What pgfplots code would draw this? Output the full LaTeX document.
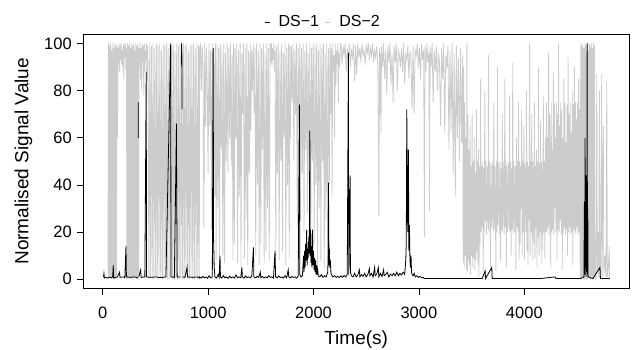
\documentclass[border=0pt]{standalone}
\usepackage{fontspec}
\setmainfont{Liberation Sans}
\usepackage{pgfplots}
\pgfplotsset{compat=1.18}
\definecolor{dsgray}{RGB}{204,204,204}
\begin{document}
\begin{tikzpicture}[x=1pt,y=1pt]
\begin{axis}[
  at={(83.3pt,61.3pt)}, anchor=south west,
  scale only axis, width=545.7pt, height=254.7pt,
  xmin=-184, xmax=4993, ymin=-4, ymax=104,
  xtick={0,1000,2000,3000,4000}, ytick={0,20,40,60,80,100},
  tick align=outside, xtick pos=bottom, ytick pos=left,
  major tick length=6pt,
  tick style={black, line width=0.7pt},
  axis line style={line width=0.7pt},
  /pgf/number format/assume math mode=true,
  /pgf/number format/1000 sep={},
  ticklabel style={font=\fontsize{16.5}{18}\selectfont},
  xticklabel style={yshift=-8.5pt},
  yticklabel style={xshift=-2pt},
  xlabel={Time(s)}, ylabel={Normalised Signal Value},
  label style={font=\fontsize{19}{21}\selectfont},
  xlabel style={at={(axis description cs:0.5,-0.2)}, anchor=center},
  ylabel style={at={(axis description cs:-0.1096,0.5)}, anchor=center},
  unbounded coords=jump,
  legend style={at={(axis description cs:0.4393,1.047)}, anchor=center, draw=none, fill=none,
    font=\fontsize{16}{18}\selectfont, legend columns=-1,
    /tikz/every even column/.append style={column sep=4pt}},
  legend image code/.code={\draw[#1] (0pt,0pt) -- (5pt,0pt); \path[draw=none] (0pt,0pt) -- (12pt,0pt);},
]
\addplot[dsgray, line width=0.8pt, forget plot] coordinates {
(50,2) (55,100) (60,0) (65,99) (70,1) (75,100) (80,0) (85,97) (90,0) (95,100) (100,1) (105,98) (110,0) (115,100) (120,0) (125,99) (130,1) (135,100)
(140,60) (145,98) (150,92) (155,100) (160,88) (165,99) (170,93) (175,100) (180,91) (185,97) (190,90) (195,100) (200,85) (205,99) (210,94) (215,100) (220,89) (225,98)
(230,0) (235,100) (240,0) (245,99) (250,1) (255,100) (260,0) (265,98) (270,0) (275,100) (280,1) (285,99) (290,0) (295,100) (300,0) (305,97) (310,1) (315,100) (320,0) (325,99) (330,0) (335,100) (340,0) (345,98)
(350,90) (355,100) (360,85) (365,98) (370,80) (375,100) (380,92) (385,99) (390,78) (395,100) (400,88) (405,97) (410,93) (415,100) (420,84) (425,99) (430,90)
(438,0) (446,100) (454,1) (462,99) (470,0) (478,100) (486,0) (494,98) (502,1) (510,100) (518,0) (526,99) (534,0) (542,100) (550,1) (558,97) (566,0) (574,100) (582,0) (590,99) (598,1) (606,100) (614,0) (622,98) (630,0) (638,100) (646,1) (654,99) (662,0) (670,100) (678,0) (686,97) (694,1) (702,100) (710,0) (718,99) (726,0) (734,100) (742,1) (750,98) (758,0) (766,100) (774,0) (782,99) (790,1) (798,100) (806,0) (814,97) (822,0) (830,100) (838,1) (846,99) (854,0) (862,100) (870,0) (878,98) (886,1) (894,100) (902,0) (910,99) (916,0)
(920,97) (928,100) (936,80) (944,99) (952,90) (960,22) (968,100) (976,65) (984,98) (992,82) (1000,45) (1008,100) (1016,65) (1024,97) (1032,21) (1040,100) (1048,55) (1056,98) (1064,35) (1070,100)
(1076,8) (1084,100) (1092,30) (1100,98) (1108,6) (1116,100) (1124,55) (1132,97) (1140,10) (1148,100) (1156,7) (1164,96) (1172,50) (1180,100) (1188,45) (1196,98) (1204,60) (1212,100) (1220,48) (1228,95) (1236,8) (1242,100)
(1248,15) (1256,98) (1264,60) (1272,100) (1280,7) (1288,97) (1296,35) (1304,100) (1312,5) (1320,96) (1328,70) (1336,100) (1344,9) (1352,98) (1360,25) (1368,100) (1376,6) (1384,97) (1392,45) (1400,100) (1406,63) (1413,97) (1420,80) (1428,100) (1436,70) (1444,98)
(1452,10) (1460,100) (1468,40) (1476,97) (1484,6) (1492,100) (1500,15) (1508,98) (1516,55) (1524,100) (1532,7) (1540,96) (1548,12) (1556,100) (1564,30) (1572,98) (1580,8) (1588,100)
(1594,92) (1600,100) (1606,90) (1612,98) (1618,93) (1624,100) (1630,88) (1636,97)
(1642,10) (1650,99) (1658,45) (1666,100) (1674,8) (1682,97) (1690,50) (1698,100) (1706,12) (1714,96) (1722,60) (1730,100) (1738,6) (1746,98) (1754,40) (1762,100) (1770,9) (1776,99)
(1782,60) (1790,99) (1798,75) (1806,100) (1814,50) (1822,97) (1830,70) (1838,100) (1846,22) (1854,98) (1862,65) (1870,100)
(1878,25) (1886,98) (1894,45) (1902,100) (1910,20) (1918,97) (1926,55) (1934,100) (1942,28) (1950,96) (1958,40) (1966,100) (1974,21) (1982,98) (1990,50) (1998,100)
(2006,15) (2014,99) (2022,40) (2030,100) (2038,6) (2046,97) (2054,30) (2062,100) (2070,8) (2078,98) (2086,50) (2094,100) (2102,5) (2110,96) (2118,25) (2126,100) (2134,10) (2142,98) (2150,40) (2158,100)
(2164,70) (2170,98) (2176,35) (2182,100) (2188,88) (2194,95) (2200,60) (2206,100) (2212,82) (2218,97) (2224,91) (2230,100) (2236,75) (2242,96) (2248,90) (2254,100)
(2260,100) (2270,91) (2280,99) (2290,95) (2300,100) (2310,88) (2320,98) (2330,93) (2340,100) (2350,90) (2360,97) (2370,94) (2380,100) (2390,84) (2400,99) (2410,86) (2420,100) (2430,94) (2440,98) (2450,92) (2460,100) (2470,95) (2480,97) (2490,91) (2500,99) (2510,96) (2520,100) (2530,93) (2540,98) (2550,95) (2560,100) (2570,92) (2580,97) (2590,94) (2600,99) (2610,90)
(2620,27) (2625,98) (2630,70) (2635,96) (2640,62) (2645,99) (2655,90) (2665,100) (2675,85) (2685,97) (2695,78) (2705,99) (2715,92) (2725,100) (2735,82) (2745,96) (2755,75)
(2765,99) (2775,92) (2785,100) (2795,80) (2805,97) (2815,95) (2825,90) (2835,98) (2845,88) (2855,100) (2865,83) (2875,96) (2885,93) (2895,99) (2905,85) (2915,97) (2925,94)
(2935,72) (2945,99) (2955,70) (2965,97) (2975,95) (2985,100) (2995,90) (3005,98) (3015,85) (3025,100) (3035,93) (3045,97) (3052,18) (3058,99) (3065,88) (3075,100) (3085,92) (3095,96) (3100,29) (3105,99)
(3115,90) (3125,100) (3135,75) (3145,97) (3155,88) (3165,99) (3175,80) (3185,96) (3195,92) (3205,65) (3215,98) (3225,85) (3235,100) (3245,62) (3255,95) (3265,90) (3275,99)
(3285,55) (3295,97) (3305,63) (3315,100) (3325,45) (3335,96) (3345,35) (3355,99) (3365,60) (3375,94) (3385,50) (3395,98) (3405,58) (3415,95)
(3420,7) (3425,90) (3430,5) (3435,75) (3440,10) (3445,60) (3450,4) (3455,100) (3460,3) (3465,70) (3470,8) (3475,55) (3480,6) (3485,65) (3490,2) (3495,48) (3500,10) (3505,70) (3510,5) (3515,50) (3520,9) (3525,60) (3530,4) (3535,45) (3540,8) (3545,72) (3550,12) (3555,50) (3560,6) (3565,55) (3570,1) (3575,48) (3580,15)
(3585,85) (3590,20) (3595,48) (3600,22) (3605,50) (3610,3) (3615,47) (3620,20) (3625,80) (3630,25) (3635,50) (3640,19) (3645,33) (3650,48) (3655,21) (3660,95) (3665,20) (3670,50) (3675,30) (3680,5) (3685,49) (3690,22) (3695,33) (3700,50) (3705,20) (3710,75) (3715,21) (3720,48) (3725,33) (3730,4) (3735,50) (3740,20) (3745,90) (3750,23) (3755,49) (3760,33) (3765,19) (3770,50) (3775,8) (3780,47) (3785,21) (3790,70) (3795,20) (3800,50) (3805,32) (3810,19) (3815,85) (3820,22) (3825,48) (3830,5) (3835,50) (3840,20) (3845,33) (3850,49) (3855,21) (3860,78) (3865,20) (3870,50) (3875,10) (3880,47) (3885,21) (3890,92) (3895,19) (3900,50) (3905,33) (3910,20) (3915,48) (3920,4) (3925,60) (3930,22) (3935,50) (3940,20) (3945,75) (3950,8)
(3955,50) (3960,15) (3965,48) (3970,30) (3975,72) (3980,10) (3985,50) (3990,20) (3995,65) (4000,8) (4005,49) (4010,33) (4015,20) (4020,80) (4025,12) (4030,50) (4035,6) (4040,48) (4045,25) (4050,100) (4055,10) (4060,50) (4065,20) (4070,70) (4075,8) (4080,50) (4085,30) (4090,15) (4095,75) (4100,9) (4105,48) (4110,22) (4115,55) (4120,5) (4125,50) (4130,18) (4135,90) (4140,10) (4145,49) (4150,20) (4155,68) (4160,7) (4165,50) (4170,33) (4175,12) (4180,78) (4185,20) (4190,50) (4195,9) (4200,60) (4205,20)
(4210,75) (4215,20) (4220,60) (4225,22) (4230,96) (4235,19) (4240,70) (4245,40) (4250,5) (4255,75) (4260,20) (4265,55) (4270,21) (4275,88) (4280,19) (4285,74) (4290,30) (4295,60) (4300,20) (4305,75) (4310,8) (4315,70) (4320,21) (4325,100) (4330,20) (4335,65) (4340,25) (4345,75) (4350,19) (4355,72) (4360,4) (4365,60) (4370,20) (4375,85) (4380,22) (4385,75) (4390,19) (4395,58) (4400,21) (4405,74) (4410,10) (4415,94) (4420,20) (4425,70) (4430,22) (4435,75) (4440,19) (4445,62) (4450,20) (4455,80) (4460,6) (4465,74) (4470,21) (4475,90) (4480,19) (4485,75) (4490,20) (4495,68) (4500,22) (4505,75) (4510,19) (4515,85) (4520,20) (4525,72)
(4530,0) (4535,100) (4540,0) (4545,99) (4550,1) (4555,100) (4560,0) (4565,98) (4570,0) (4575,100) (4580,1) (4585,99) (4590,0) (4595,100) (4600,0) (4605,97) (4610,1) (4615,100) (4620,0) (4625,99) (4630,0) (4635,100) (4640,1) (4645,98) (4650,0) (4655,100) (4660,0) (4665,99) (4670,1)
(4680,0) (4687,87) (4692,2) (4700,20) (4706,1) (4712,80) (4717,0) (4725,8) (4734,87) (4738,1) (4750,65) (4755,2) (4765,10) (4775,0) (4782,84) (4788,1) (4797,5) (4806,14) (4808,0)
};
\addplot[black, line width=0.8pt] coordinates {
(8,1) (12,2.5) (16,0.5) (30,0.8) (50,0.5) (60,1) (80,0.6) (95,1) (100,6) (104,0.5) (140,1) (160,3) (164,0.8) (200,1) (210,0.6) (221,14) (225,1) (260,0.8) (300,1) (334,0.6)
(336,nan) (337,60) (338,75) (339,nan)
(343,1) (360,4) (365,0.8) (400,1) (413,88) (416,1) (450,0.8) (500,1) (550,0.7) (600,1) (645,100) (648,1) (680,0.8) (700,66) (702,33) (704,23) (706,1) (740,1)
(746,nan) (748,100) (749,91) (750,99) (751,90) (752,96) (753,72) (754,nan)
(758,1) (780,0.8) (800,5) (805,1) (850,0.8) (900,1) (917,0.5)
(920,1) (935,0.5) (950,1.2) (965,0.6) (980,1) (995,0.4) (1010,1.5) (1025,0.6) (1040,1) (1048,98) (1052,17) (1058,5) (1065,1) (1080,0.5) (1095,2) (1105,0.8) (1113,10) (1117,1) (1130,0.5) (1145,1.5) (1160,0.6) (1175,1) (1190,0.4) (1205,1.3) (1220,0.6) (1235,1) (1250,0.5) (1265,1.8) (1280,0.7) (1295,1) (1310,0.6) (1320,5) (1325,1) (1340,0.5) (1355,1.4) (1370,0.7) (1385,1) (1400,0.6) (1415,1.5) (1430,13.5) (1434,1) (1450,0.6) (1465,1.2) (1480,0.8) (1495,3) (1500,0.7) (1515,1.2) (1530,0.5) (1545,1) (1560,0.6) (1575,1.5) (1590,0.8) (1605,1) (1620,0.5) (1635,12) (1640,1) (1655,0.6) (1670,1.4) (1685,0.7) (1700,1) (1715,0.5) (1730,1.5) (1745,0.6) (1760,4) (1765,1) (1780,0.6) (1795,1.2) (1810,0.8) (1825,1) (1840,0.5) (1855,1.4)
(1866,74) (1870,2) (1880,1) (1895,1.5) (1905,10) (1910,3) (1915,12) (1920,5) (1925,15) (1930,8) (1935,21) (1940,6) (1945,13) (1950,9) (1955,18) (1960,11) (1965,63) (1968,10) (1972,21) (1976,7) (1980,14) (1985,5) (1990,21) (1995,6) (2000,12) (2005,4) (2010,9) (2015,3) (2020,8) (2025,2) (2030,6) (2035,2) (2040,4) (2045,1.5) (2060,1) (2075,2) (2090,0.8) (2105,1.5) (2120,1) (2135,3) (2140,12) (2142,41) (2145,17) (2148,6) (2150,13) (2155,5) (2160,8) (2165,3) (2170,2) (2185,1) (2200,1.5) (2215,0.8) (2230,1.2) (2245,0.7) (2260,1.5) (2275,0.8) (2290,1.6) (2305,1) (2320,2) (2331,96) (2334,2) (2347,44) (2350,3) (2360,1.5) (2375,1) (2390,2.5) (2405,1) (2420,1.8) (2435,4) (2440,1) (2455,2) (2470,1.2) (2485,2.5) (2500,1) (2515,2) (2530,4.5) (2535,1.5) (2550,2.5) (2565,1) (2580,5) (2585,1.5) (2600,2.2) (2615,5) (2620,1) (2635,2.5) (2650,1.2) (2665,4) (2670,1.5) (2685,2) (2700,3) (2715,1) (2730,2.2) (2745,1.5) (2760,2.5) (2775,1.5) (2790,3) (2805,1.5) (2820,2.5) (2835,1.8) (2850,3) (2865,2) (2875,8) (2880,15) (2885,72) (2890,30) (2895,20) (2900,55) (2905,12) (2910,23) (2915,8) (2920,5) (2925,10) (2930,3) (2935,2) (2945,1.5) (2955,2.5) (2965,1) (2980,1.5) (2995,0.8) (3010,1.2) (3025,0.6) (3043,0.8) (3050,0.3) (3200,0.3) (3400,0.3) (3600,0.3) (3628,3.5) (3632,0.3) (3691,5) (3695,0.3) (3900,0.3) (4150,0.3) (4292,1) (4300,0.3) (4400,0.3) (4530,0.3)
(4565,1) (4570,33) (4573,2) (4576,60) (4579,5) (4582,33) (4585,1) (4588,44) (4591,3) (4594,33) (4596,100) (4599,2) (4602,30) (4605,1) (4650,0.3) (4718,5) (4722,0.3) (4808,0.3)
};
\addlegendentry{DS−1}
\addlegendimage{dsgray, line width=0.8pt}
\addlegendentry{DS−2}
\end{axis}
\pgfresetboundingbox
\path[use as bounding box] (0,0) rectangle (632,350);
\end{tikzpicture}
\end{document}
